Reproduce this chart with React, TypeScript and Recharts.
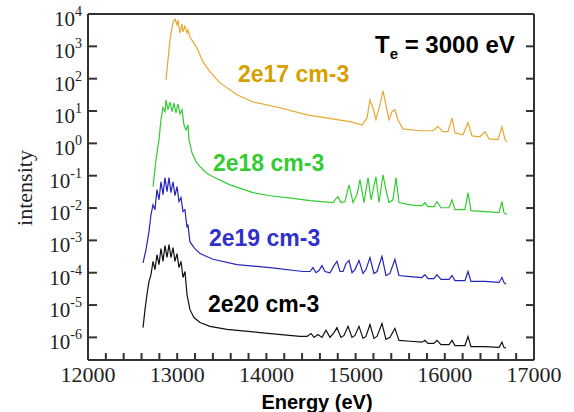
import { LineChart, Line, XAxis, YAxis } from 'recharts';

// spectra: [energy (eV), intensity]
const n2e17: [number, number][] = [
    [12874, 91], [12897, 380], [12919, 1580], [12942, 3700], [12953, 5600], [12975, 7000],
    [12998, 4600], [13009, 6500], [13031, 2600], [13054, 4900], [13065, 2800], [13087, 4200],
    [13110, 2600], [13121, 3200], [13143, 1950], [13177, 1380], [13222, 890], [13289, 330],
    [13368, 162], [13480, 74], [13670, 32], [13850, 19], [14152, 12.6], [14455, 7.6],
    [14791, 5.4], [14937, 4.7], [15072, 3.7], [15128, 6.1], [15161, 22], [15195, 12.6],
    [15228, 5.4], [15273, 15.5], [15307, 42], [15340, 15.5], [15374, 5.4], [15408, 9.5],
    [15441, 11], [15475, 5.4], [15531, 2.8], [15722, 2.45], [15867, 2.45], [15923, 3.3],
    [15980, 2.3], [16036, 2.3], [16081, 6.1], [16114, 2.1], [16204, 1.85], [16260, 4.4],
    [16305, 1.7], [16394, 1.6], [16451, 2.3], [16495, 1.38], [16596, 1.3], [16641, 3.25],
    [16675, 1.3], [16697, 1.12],
];

const n2e18: [number, number][] = [
    [12729, 0.046], [12762, 0.31], [12796, 1.3], [12818, 5.4], [12841, 12.6], [12863, 9.5],
    [12874, 22], [12897, 11], [12919, 19], [12942, 9.5], [12964, 17.7], [12986, 8.8],
    [13009, 16.5], [13031, 8.2], [13054, 11], [13076, 3.7], [13099, 2.6], [13121, 3.7],
    [13132, 1.3], [13166, 0.51], [13211, 0.27], [13256, 0.19], [13323, 0.123], [13401, 0.093],
    [13592, 0.052], [13850, 0.03], [14040, 0.024], [14231, 0.021], [14489, 0.017], [14746, 0.0148],
    [14780, 0.0195], [14803, 0.0224], [14836, 0.0148], [14881, 0.0158], [14926, 0.052], [14971, 0.0148],
    [15016, 0.026], [15049, 0.076], [15094, 0.0148], [15139, 0.087], [15173, 0.018], [15228, 0.093],
    [15262, 0.0148], [15307, 0.107], [15340, 0.037], [15374, 0.0148], [15419, 0.018], [15453, 0.087],
    [15486, 0.0148], [15610, 0.0126], [15744, 0.0117], [15778, 0.0148], [15811, 0.011], [15878, 0.011],
    [15912, 0.0158], [15957, 0.0102], [16047, 0.0102], [16081, 0.018], [16114, 0.0089], [16226, 0.0089],
    [16260, 0.03], [16293, 0.0083], [16451, 0.0078], [16608, 0.0072], [16641, 0.0158], [16663, 0.0072],
    [16697, 0.0063],
];

const n2e19: [number, number][] = [
    [12617, 2.0e-4], [12650, 5.2e-4], [12684, 1.9e-3], [12706, 6.3e-3], [12729, 0.0126], [12751, 0.0089],
    [12773, 0.037], [12796, 0.018], [12818, 0.065], [12841, 0.026], [12863, 0.087], [12886, 0.032],
    [12908, 0.087], [12930, 0.03], [12953, 0.065], [12975, 0.024], [12998, 0.046], [13020, 0.0158],
    [13043, 0.021], [13065, 0.0078], [13087, 0.0089], [13110, 2.5e-3], [13121, 3.1e-3], [13143, 9.1e-4],
    [13188, 6.0e-4], [13256, 3.9e-4], [13401, 2.6e-4], [13670, 1.78e-4], [14040, 1.44e-4], [14410, 1.09e-4],
    [14489, 1.09e-4], [14522, 1.44e-4], [14556, 1.0e-4], [14590, 1.17e-4], [14623, 1.66e-4], [14657, 1.09e-4],
    [14713, 1.0e-4], [14758, 1.66e-4], [14791, 2.24e-4], [14825, 1.09e-4], [14859, 1.09e-4], [14892, 1.9e-4],
    [14926, 2.4e-4], [14960, 1.0e-4], [14993, 1.25e-4], [15038, 2.4e-4], [15083, 9.5e-5], [15116, 1.25e-4],
    [15161, 2.95e-4], [15206, 9.5e-5], [15240, 1.09e-4], [15296, 3.2e-4], [15340, 8.2e-5], [15385, 9.5e-5],
    [15441, 2.6e-4], [15486, 8.2e-5], [15610, 7.6e-5], [15744, 7.1e-5], [15778, 8.7e-5], [15811, 6.6e-5],
    [15878, 6.6e-5], [15912, 8.7e-5], [15957, 6.2e-5], [16047, 6.2e-5], [16081, 8.2e-5], [16114, 5.7e-5],
    [16226, 5.7e-5], [16260, 1.09e-4], [16293, 5.4e-5], [16451, 5.4e-5], [16608, 5.0e-5], [16641, 7.1e-5],
    [16663, 5.0e-5], [16686, 4.4e-5],
];

const n2e20: [number, number][] = [
    [12617, 2.0e-6], [12639, 7.2e-6], [12661, 2.1e-5], [12684, 5.4e-5], [12706, 8.7e-5], [12729, 2.24e-4],
    [12751, 1.25e-4], [12773, 3.6e-4], [12796, 1.78e-4], [12818, 5.6e-4], [12841, 2.24e-4], [12863, 6.9e-4],
    [12886, 2.95e-4], [12908, 7.4e-4], [12930, 2.95e-4], [12953, 6.0e-4], [12975, 2.24e-4], [12998, 3.9e-4],
    [13020, 1.44e-4], [13043, 2.24e-4], [13065, 7.1e-5], [13087, 1.09e-4], [13110, 2.1e-5], [13121, 1.48e-5],
    [13143, 7.2e-6], [13188, 4.1e-6], [13256, 2.9e-6], [13368, 2.2e-6], [13558, 1.78e-6], [13928, 1.41e-6],
    [14377, 1.07e-6], [14455, 1.07e-6], [14500, 1.32e-6], [14534, 1.0e-6], [14578, 1.23e-6], [14623, 1.0e-6],
    [14668, 1.66e-6], [14713, 1.0e-6], [14758, 1.41e-6], [14791, 2.0e-6], [14836, 1.0e-6], [14870, 1.15e-6],
    [14915, 2.2e-6], [14960, 1.0e-6], [14993, 1.15e-6], [15038, 2.2e-6], [15083, 9.3e-7], [15116, 1.07e-6],
    [15161, 2.5e-6], [15206, 9.3e-7], [15240, 1.07e-6], [15296, 2.7e-6], [15340, 8.7e-7], [15385, 1.0e-6],
    [15441, 1.9e-6], [15486, 8.1e-7], [15610, 7.6e-7], [15744, 7.1e-7], [15778, 8.1e-7], [15811, 6.5e-7],
    [15878, 6.5e-7], [15912, 8.1e-7], [15957, 6.0e-7], [16047, 6.0e-7], [16081, 8.1e-7], [16114, 5.6e-7],
    [16226, 5.6e-7], [16260, 1.07e-6], [16293, 5.2e-7], [16451, 5.2e-7], [16608, 4.9e-7], [16641, 7.1e-7],
    [16663, 4.9e-7], [16686, 4.6e-7],
];

const xTicks = [
    12000, 12200, 12400, 12600, 12800, 13000, 13200, 13400, 13600, 13800, 14000, 14200, 14400,
    14600, 14800, 15000, 15200, 15400, 15600, 15800, 16000, 16200, 16400, 16600, 16800, 17000,
];
const yTicks = [1e-6, 1e-5, 1e-4, 1e-3, 1e-2, 1e-1, 1e0, 1e1, 1e2, 1e3, 1e4];

const AXIS = '#333333';
const TICK_LINE = { stroke: AXIS, strokeWidth: 2 };
const SERIF = '"Liberation Serif", "DejaVu Serif", serif';
const SANS = '"Liberation Sans", Arial, sans-serif';

const toRows = (pts: [number, number][]) => pts.map(([e, v]) => ({ energy: e, value: v }));

// label only on the 1000 eV ticks; the tick marks come from the axis itself
function BottomLabel({ x, y, payload }: any) {
    if (payload.value % 1000 !== 0) return <g />;
    return (
        <text x={x} y={y + 22} textAnchor="middle" fontFamily={SERIF} fontSize={22} fill="#222222">
            {payload.value}
        </text>
    );
}

function LeftLabel({ x, y, payload }: any) {
    const exp = Math.round(Math.log10(payload.value));
    return (
        <text x={x - 6} y={y + 12} textAnchor="end" fontFamily={SERIF} fontSize={21} fill="#222222">
            10
            <tspan dy={-10} fontSize={14}>{exp}</tspan>
        </text>
    );
}

const series = [
    { key: '2e17', data: toRows(n2e17), color: '#e8a830' },
    { key: '2e18', data: toRows(n2e18), color: '#33cc33' },
    { key: '2e19', data: toRows(n2e19), color: '#2424bb' },
    { key: '2e20', data: toRows(n2e20), color: '#111111' },
];

export default function App() {
    return (
        <div style={{ position: 'absolute', left: 0, top: 0, width: 574, height: 412, background: '#fff' }}>
            <LineChart width={574} height={412} margin={{ top: 13, right: 39, bottom: 0, left: 0 }}>
                {/* negative tickSize turns the ticks inward, tickMargin puts the label back outside */}
                <XAxis
                    dataKey="energy"
                    type="number"
                    domain={[12000, 17000]}
                    allowDataOverflow
                    ticks={xTicks}
                    interval={0}
                    height={52}
                    tickSize={-7}
                    tickMargin={7}
                    tickLine={TICK_LINE}
                    axisLine={{ stroke: AXIS, strokeWidth: 2 }}
                    tick={(p: any) => <BottomLabel {...p} />}
                />
                <XAxis
                    xAxisId="top"
                    orientation="top"
                    type="number"
                    domain={[12000, 17000]}
                    allowDataOverflow
                    ticks={xTicks}
                    interval={0}
                    height={1}
                    tickSize={-7}
                    tickLine={TICK_LINE}
                    axisLine={{ stroke: AXIS, strokeWidth: 2 }}
                    tick={() => <g />}
                />
                <YAxis
                    type="number"
                    scale="log"
                    domain={[2e-7, 1e4]}
                    allowDataOverflow
                    ticks={yTicks}
                    interval={0}
                    width={88}
                    tickSize={-9}
                    tickMargin={9}
                    tickLine={TICK_LINE}
                    axisLine={{ stroke: AXIS, strokeWidth: 2 }}
                    tick={(p: any) => <LeftLabel {...p} />}
                />
                <YAxis
                    yAxisId="right"
                    orientation="right"
                    type="number"
                    scale="log"
                    domain={[2e-7, 1e4]}
                    allowDataOverflow
                    ticks={yTicks}
                    interval={0}
                    width={1}
                    tickSize={-8}
                    tickLine={TICK_LINE}
                    axisLine={{ stroke: AXIS, strokeWidth: 2 }}
                    tick={() => <g />}
                />
                {series.map(s => (
                    <Line
                        key={s.key}
                        data={s.data}
                        dataKey="value"
                        type="linear"
                        stroke={s.color}
                        strokeWidth={1.2}
                        dot={false}
                        activeDot={false}
                        isAnimationActive={false}
                    />
                ))}
            </LineChart>

            {/* annotations */}
            <svg width={574} height={412} style={{ position: 'absolute', left: 0, top: 0, pointerEvents: 'none' }}>
                <text x={375} y={53} fontFamily={SANS} fontWeight="bold" fontSize={24} fill="#000">
                    T<tspan dy={6} fontSize={15}>e</tspan>
                    <tspan dy={-6}> = 3000 eV</tspan>
                </text>
                <text x={238} y={82} fontFamily={SANS} fontWeight="bold" fontSize={23} fill="#d6a000">2e17 cm-3</text>
                <text x={213} y={171} fontFamily={SANS} fontWeight="bold" fontSize={23} fill="#33cc33">2e18 cm-3</text>
                <text x={209} y={246} fontFamily={SANS} fontWeight="bold" fontSize={23} fill="#3030cc">2e19 cm-3</text>
                <text x={208} y={312} fontFamily={SANS} fontWeight="bold" fontSize={23} fill="#000">2e20 cm-3</text>
                <text x={317} y={409} textAnchor="middle" fontFamily={SANS} fontWeight="bold" fontSize={20} fill="#000">
                    Energy (eV)
                </text>
                <text
                    x={0}
                    y={0}
                    transform="translate(32,188) rotate(-90)"
                    textAnchor="middle"
                    fontFamily={SERIF}
                    fontSize={22}
                    fill="#222"
                >
                    intensity
                </text>
            </svg>
        </div>
    );
}
